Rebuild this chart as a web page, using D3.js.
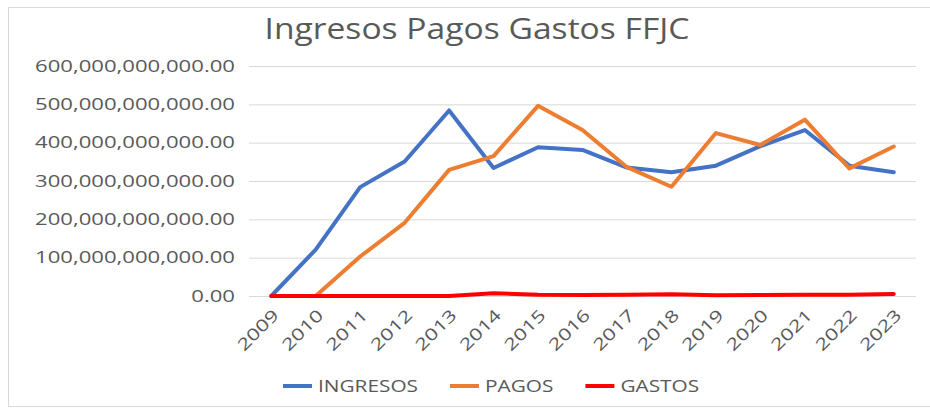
<!DOCTYPE html>
<html>
<head>
<meta charset="utf-8">
<script src="https://cdn.jsdelivr.net/npm/d3@7"></script>
<style>
  body { margin: 0; background: #fff; }
  text { font-family: "Open Sans", sans-serif; fill: #595959; }
</style>
</head>
<body>
<div id="root"></div>
<script>
const years = ['2009', '2010', '2011', '2012', '2013', '2014', '2015', '2016',
  '2017', '2018', '2019', '2020', '2021', '2022', '2023'];
// values in billions (miles de millones)
const ingresos = [0, 121, 284, 351, 484, 334, 388, 381, 335, 323, 340, 391, 433, 340, 323];
const pagos = [null, 0, 103, 191, 329, 365, 496, 433, 336, 285, 425, 394, 460, 333, 390];
const gastos = [0, 0, 0, 0, 0, 7, 3.5, 2.6, 3.5, 4.3, 1.7, 2.6, 3.5, 3.5, 5.2];
const yTicks = [0, 100, 200, 300, 400, 500, 600];

const series = [
  { name: 'INGRESOS', values: ingresos, color: '#4472c4' },
  { name: 'PAGOS', values: pagos, color: '#ed7d31' },
  { name: 'GASTOS', values: gastos, color: '#ff0000' },
];

const width = 930;
const height = 415;
const plotLeft = 249;
const plotRight = 916;
const plotTop = 66;
const plotBottom = 296;

// stretch text horizontally to the widths seen in the reference
function stretch(sel, k) {
  sel.each(function () {
    const w = this.getComputedTextLength();
    d3.select(this).attr('textLength', w * k).attr('lengthAdjust', 'spacingAndGlyphs');
  });
}

const svg = d3.select('#root')
  .append('svg')
  .attr('width', width)
  .attr('height', height);

svg.append('rect')
  .attr('x', 8.5)
  .attr('y', 7.5)
  .attr('width', 940)
  .attr('height', 399)
  .attr('fill', '#fff')
  .attr('stroke', '#d9d9d9');

const title = svg.append('text')
  .attr('x', 477)
  .attr('y', 39)
  .attr('text-anchor', 'middle')
  .attr('font-size', '29px')
  .text('Ingresos Pagos Gastos FFJC');
stretch(title, 425 / title.node().getComputedTextLength());

const x = d3.scalePoint()
  .domain(years)
  .range([plotLeft, plotRight])
  .padding(0.5);

const y = d3.scaleLinear()
  .domain([0, 600])
  .range([plotBottom, plotTop]);

const fmt = (v) => d3.format(',.2f')(v * 1e9);

// gridlines + y labels
const yAxis = svg.append('g')
  .attr('transform', `translate(${plotLeft},0)`)
  .call(d3.axisLeft(y).tickValues(yTicks).tickFormat(fmt)
    .tickSize(-(plotRight - plotLeft)).tickPadding(14));
yAxis.select('.domain').remove();
yAxis.selectAll('.tick line').attr('stroke', '#d9d9d9').attr('stroke-width', 1);
const yLabels = yAxis.selectAll('.tick text')
  .attr('font-size', '16.5px')
  .attr('fill', '#595959')
  .attr('font-family', '"Open Sans", sans-serif');
const maxW = d3.max(yLabels.nodes(), (n) => n.getComputedTextLength());
const k = 200 / maxW;
stretch(yLabels, k);

// x labels
const xAxis = svg.append('g')
  .attr('transform', `translate(0,${plotBottom})`)
  .call(d3.axisBottom(x).tickSize(0));
xAxis.select('.domain').remove();
const xLabels = xAxis.selectAll('.tick text')
  .attr('font-size', '16.5px')
  .attr('fill', '#595959')
  .attr('font-family', '"Open Sans", sans-serif')
  .attr('text-anchor', 'end')
  .attr('dy', '0.35em')
  .attr('transform', 'translate(2,14) rotate(-45)');
stretch(xLabels, k);

const line = d3.line()
  .defined((d) => d != null)
  .x((_d, i) => x(years[i]))
  .y((d) => y(d));

svg.append('g')
  .selectAll('path')
  .data(series)
  .enter()
  .append('path')
  .attr('d', (s) => line(s.values))
  .attr('fill', 'none')
  .attr('stroke', (s) => s.color)
  .attr('stroke-width', 4)
  .attr('stroke-linejoin', 'round')
  .attr('stroke-linecap', 'round');

// legend
const legend = svg.append('g');
let lx = 283;
let kl = null;
series.forEach((s) => {
  legend.append('line')
    .attr('x1', lx)
    .attr('x2', lx + 29)
    .attr('y1', 386)
    .attr('y2', 386)
    .attr('stroke', s.color)
    .attr('stroke-width', 4);
  const t = legend.append('text')
    .attr('x', lx + 35)
    .attr('y', 386)
    .attr('dy', '0.36em')
    .attr('font-size', '17px')
    .text(s.name);
  const w = t.node().getComputedTextLength();
  if (kl === null) kl = 100 / w;
  stretch(t, kl);
  lx += 35 + w * kl + 32;
});
</script>
</body>
</html>
